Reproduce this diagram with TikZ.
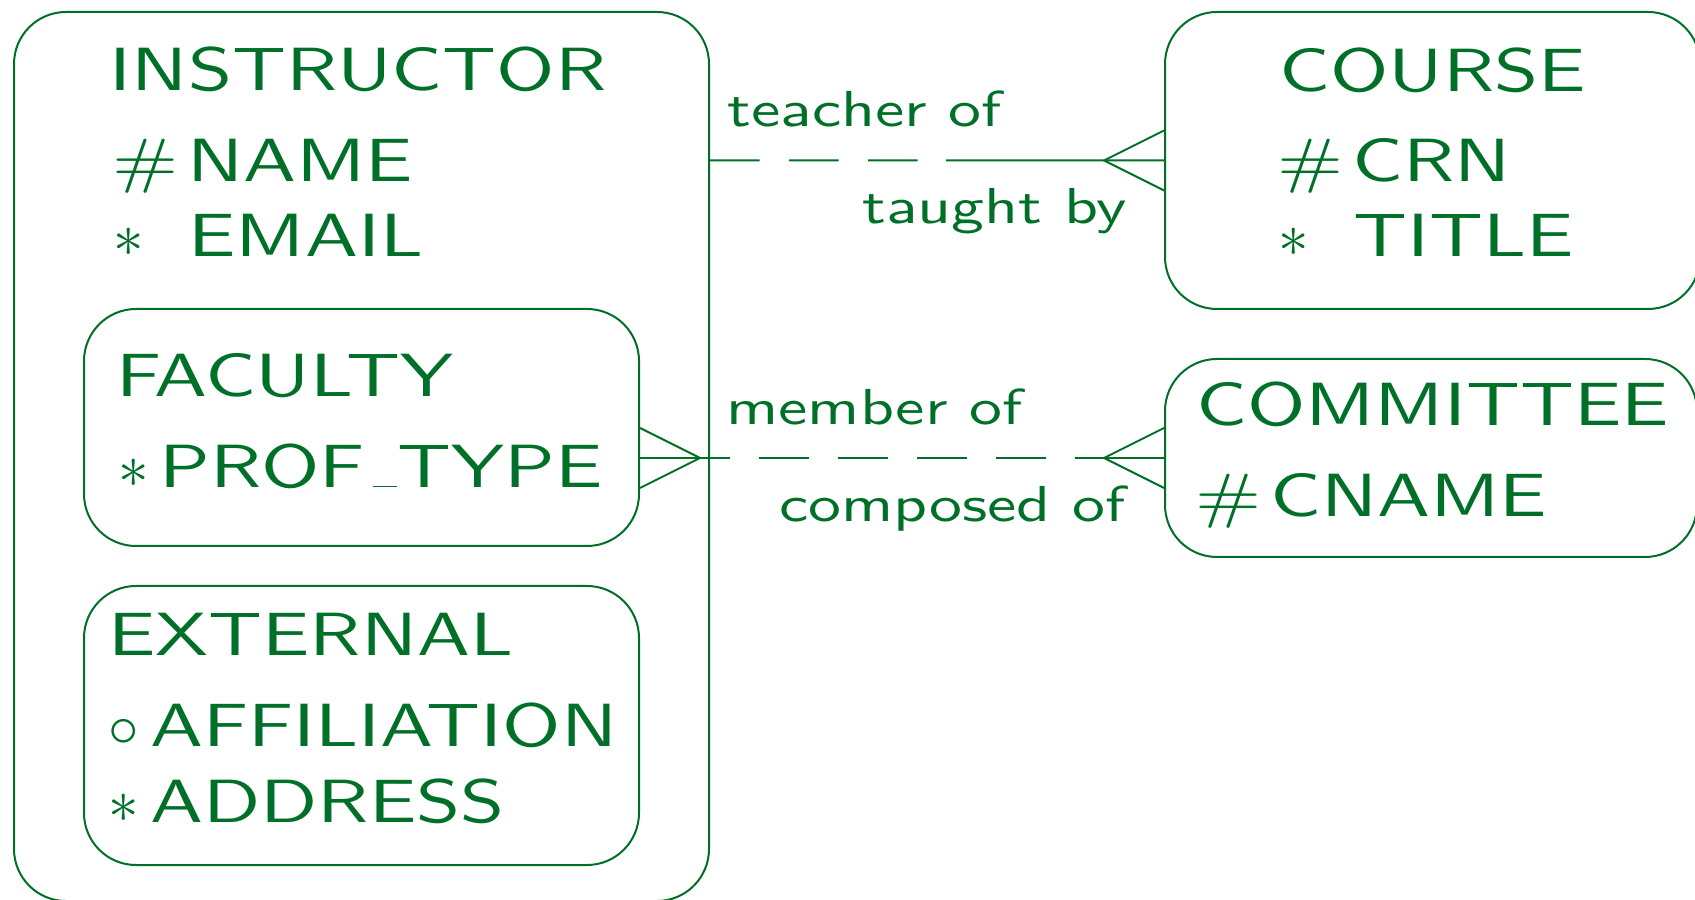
\documentclass[tikz,border=0pt]{standalone}
\usepackage{fix-cm}
\usepackage{fontspec}
\usetikzlibrary{calc,positioning}
\newfontfamily\boxfont[FakeStretch=1.3]{lmsans10-regular.otf}
\definecolor{ergreen}{RGB}{0,112,40}
\newcommand{\attr}[3][37.5pt]{\makebox[#1][l]{#2}#3}
\newcommand{\usc}{\kern4pt\rule{12pt}{0.6pt}\kern0.5pt}

\begin{document}
\begin{tikzpicture}[x=0.5pt,y=0.5pt,
        entity/.style={draw=ergreen, line width=1pt, rounded corners=26pt, anchor=north west, inner sep=0pt},
        ename/.style={anchor=base west, inner sep=0pt, text=ergreen, font=\boxfont\fontsize{30.5}{36}\selectfont},
        rname/.style={anchor=base west, inner sep=0pt, text=ergreen, font=\boxfont\fontsize{25.3}{30}\selectfont},
        reldash/.style={dash pattern=on 24.75pt off 14.75pt}]
        \useasboundingbox (0,0) rectangle (1695,899);
        \node[entity, minimum width=347.5pt, minimum height=444.5pt] (instructor) at (13,888) {};
        \node[entity, minimum width=277.5pt, minimum height=118.5pt] (faculty) at (83,591) {};
        \node[entity, minimum width=277.5pt, minimum height=139.5pt] (external) at (83,314) {};
        \node[entity, minimum width=267.5pt, minimum height=148.5pt] (course) at (1164,888) {};
        \node[entity, minimum width=266pt, minimum height=99pt] (committee) at (1164,541) {};

        \node[ename] (instname) at (109.5,808.3) {INSTRUCTOR};
        \node[ename] (instpk) at (112,717.3) {\attr{\#}{NAME}};
        \node[ename] (instemail) at (113,642.3) {\attr{$\ast$}{EMAIL}};
        \node[ename] (facname) at (115.6,502.3) {FACULTY};
        \node[ename] (facattr) at (118,411.7) {\attr[20.5pt]{$\ast$}{PROF\usc TYPE}};
        \node[ename] (extname) at (108,243) {EXTERNAL};
        \node[ename] (extaff) at (108,152.3) {\attr[21pt]{$\circ$}{AFFILIATION}};
        \node[ename] (extaddr) at (108,76.7) {\attr[21pt]{$\ast$}{ADDRESS}};
        \node[ename] (crsname) at (1279,807.8) {COURSE};
        \node[ename] (crspk) at (1277,717.8) {\attr{\#}{CRN}};
        \node[ename] (crstitle) at (1278,642.4) {\attr{$\ast$}{TITLE}};
        \node[ename] (cmtname) at (1196,473.1) {COMMITTEE};
        \node[ename] (cmtpk) at (1195,382) {\attr{\#}{CNAME}};

        \node[rname] (teach) at (727,772.3) {teacher of};
        \node[rname] (taught) at (862,675.7) {taught by};
        \node[rname] (member) at (726,474.7) {member of};
        \node[rname] (composed) at (779,377.3) {composed of};

        \begin{scope}[draw=ergreen, line width=1pt]
        \coordinate (t1) at (instructor.east |- course.west);
        \coordinate (t2) at ($(t1)!0.52!(course.west)$);
        \draw[reldash] (t1) -- (t2);
        \draw (t2) -- (course.west);
        \coordinate (m0) at (faculty.east |- committee.west);
        \coordinate (m1) at ($(m0)+(60,0)$);
        \coordinate (m2) at ($(committee.west)+(-89,0)$);
        \draw (m0) -- (m1);
        \draw[reldash, dash phase=10pt] (m1) -- (m2);
        \draw (m2) -- (committee.west);
        \foreach \b/\d in {course.west/-60, committee.west/-60, m0/60}
        \draw (\b) ++(0,30) -- ++(\d,-30) -- ++(-\d,-30);
        \end{scope}
\end{tikzpicture}
\end{document}
